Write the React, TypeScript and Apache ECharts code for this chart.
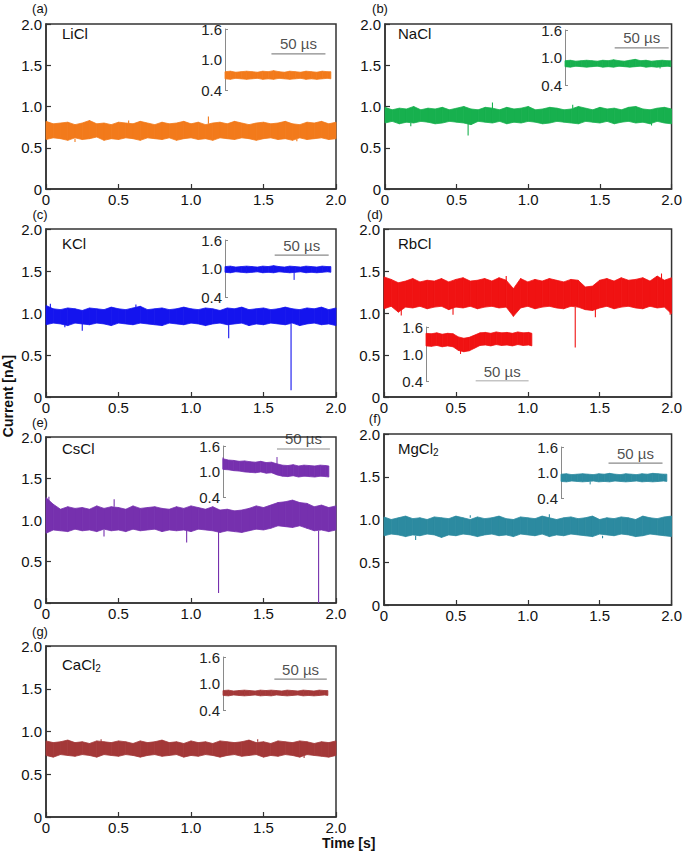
import React, { useEffect, useRef } from "react";
import * as echarts from "echarts";

const FONT = "'Liberation Sans', Arial, Helvetica, sans-serif";

// ---------- DATA ----------
const sampleTimes = [0, 0.05, 0.1, 0.15, 0.2, 0.25, 0.3, 0.35, 0.4, 0.45, 0.5, 0.55, 0.6, 0.65, 0.7, 0.75, 0.8, 0.85, 0.9, 0.95, 1.0, 1.05, 1.1, 1.15, 1.2, 1.25, 1.3, 1.35, 1.4, 1.45, 1.5, 1.55, 1.6, 1.65, 1.7, 1.75, 1.8, 1.85, 1.9, 1.95, 2.0];
const insetTimes = [0, 5, 10, 15, 20, 25, 30, 35, 40, 45, 50, 55, 60, 65, 70, 75, 80, 85, 90, 95, 98];

const panelTags = ["(a)", "(b)", "(c)", "(d)", "(e)", "(f)", "(g)"];
const saltNames = ["{n|LiCl}", "{n|NaCl}", "{n|KCl}", "{n|RbCl}", "{n|CsCl}", "{n|MgCl}{s|2}", "{n|CaCl}{s|2}"];
const saltColors = ["#F27A1B", "#17B04E", "#1414EE", "#F01212", "#7630AE", "#2C8AA0", "#A33838"];
const insetTickLabels = [0.4, 1.0, 1.6];
const insetTickEnds = [0.4, 1.6];
const scaleBarText = "50 µs";

// main traces: upper / lower envelope of the noise band [nA]
const liclHi = [0.82, 0.79, 0.80, 0.81, 0.78, 0.80, 0.83, 0.79, 0.80, 0.78, 0.81, 0.80, 0.79, 0.82, 0.80, 0.78, 0.81, 0.79, 0.80, 0.82, 0.79, 0.81, 0.78, 0.80, 0.81, 0.79, 0.82, 0.80, 0.78, 0.80, 0.81, 0.79, 0.80, 0.82, 0.79, 0.78, 0.81, 0.80, 0.82, 0.79, 0.81];
const liclLo = [0.60, 0.62, 0.61, 0.59, 0.62, 0.60, 0.61, 0.63, 0.59, 0.61, 0.60, 0.62, 0.61, 0.59, 0.62, 0.61, 0.60, 0.62, 0.59, 0.61, 0.62, 0.60, 0.61, 0.59, 0.62, 0.61, 0.60, 0.62, 0.61, 0.59, 0.61, 0.62, 0.60, 0.61, 0.59, 0.62, 0.60, 0.61, 0.62, 0.60, 0.61];
const naclHi = [0.99, 0.96, 0.98, 0.97, 1.00, 0.96, 0.98, 0.97, 0.99, 0.96, 0.98, 1.00, 0.97, 0.96, 0.99, 0.98, 0.96, 0.99, 0.97, 0.98, 1.00, 0.96, 0.97, 0.99, 0.98, 0.96, 0.97, 1.00, 0.98, 0.96, 0.99, 0.97, 0.98, 0.96, 0.99, 1.00, 0.97, 0.96, 0.98, 0.99, 0.97];
const naclLo = [0.80, 0.82, 0.79, 0.81, 0.80, 0.82, 0.81, 0.79, 0.80, 0.82, 0.81, 0.80, 0.78, 0.82, 0.81, 0.80, 0.82, 0.79, 0.81, 0.80, 0.82, 0.81, 0.79, 0.80, 0.82, 0.81, 0.80, 0.79, 0.82, 0.81, 0.80, 0.82, 0.79, 0.81, 0.82, 0.80, 0.81, 0.79, 0.82, 0.80, 0.79];
const kclHi = [1.09, 1.05, 1.04, 1.06, 1.05, 1.03, 1.06, 1.05, 1.04, 1.07, 1.05, 1.04, 1.06, 1.08, 1.04, 1.05, 1.06, 1.04, 1.05, 1.07, 1.05, 1.04, 1.06, 1.05, 1.03, 1.06, 1.05, 1.07, 1.04, 1.05, 1.06, 1.04, 1.05, 1.07, 1.05, 1.04, 1.06, 1.05, 1.07, 1.04, 1.06];
const kclLo = [0.86, 0.88, 0.87, 0.85, 0.88, 0.87, 0.86, 0.88, 0.87, 0.85, 0.88, 0.87, 0.86, 0.88, 0.87, 0.86, 0.85, 0.88, 0.87, 0.86, 0.88, 0.87, 0.85, 0.87, 0.88, 0.86, 0.87, 0.88, 0.85, 0.87, 0.86, 0.88, 0.87, 0.86, 0.88, 0.85, 0.87, 0.88, 0.86, 0.87, 0.85];
const rbclHi = [1.43, 1.40, 1.36, 1.38, 1.41, 1.37, 1.39, 1.38, 1.41, 1.37, 1.40, 1.42, 1.38, 1.39, 1.41, 1.38, 1.42, 1.39, 1.29, 1.41, 1.37, 1.40, 1.38, 1.41, 1.39, 1.37, 1.40, 1.39, 1.31, 1.32, 1.39, 1.41, 1.38, 1.42, 1.39, 1.40, 1.42, 1.38, 1.44, 1.39, 1.42];
const rbclLo = [1.05, 1.08, 1.01, 1.07, 1.06, 1.08, 1.05, 1.07, 1.08, 1.04, 1.07, 1.06, 1.08, 1.05, 1.07, 1.08, 1.06, 1.07, 0.96, 1.06, 1.08, 1.05, 1.07, 1.08, 1.06, 1.05, 1.08, 1.07, 1.04, 1.03, 1.06, 1.08, 1.05, 1.07, 1.08, 1.06, 1.05, 1.08, 1.06, 1.07, 0.99];
const csclHi = [1.27, 1.19, 1.13, 1.16, 1.14, 1.15, 1.13, 1.17, 1.14, 1.16, 1.15, 1.13, 1.17, 1.14, 1.15, 1.16, 1.14, 1.13, 1.16, 1.14, 1.17, 1.15, 1.13, 1.16, 1.12, 1.13, 1.11, 1.12, 1.14, 1.17, 1.15, 1.18, 1.21, 1.22, 1.24, 1.21, 1.20, 1.16, 1.18, 1.15, 1.17];
const csclLo = [0.84, 0.88, 0.87, 0.86, 0.89, 0.87, 0.88, 0.86, 0.89, 0.87, 0.88, 0.86, 0.89, 0.87, 0.88, 0.89, 0.86, 0.88, 0.87, 0.88, 0.86, 0.89, 0.88, 0.87, 0.85, 0.87, 0.86, 0.85, 0.87, 0.89, 0.88, 0.90, 0.93, 0.92, 0.91, 0.93, 0.90, 0.87, 0.88, 0.86, 0.88];
const mgclHi = [1.03, 1.00, 1.02, 1.04, 1.01, 1.02, 1.00, 1.03, 1.02, 1.01, 1.04, 1.02, 1.00, 1.03, 1.01, 1.02, 1.04, 1.01, 1.00, 1.03, 1.02, 1.01, 1.04, 1.02, 1.00, 1.02, 1.03, 1.01, 1.02, 1.04, 1.00, 1.02, 1.01, 1.03, 1.02, 1.00, 1.04, 1.02, 1.01, 1.03, 1.04];
const mgclLo = [0.81, 0.83, 0.82, 0.80, 0.82, 0.81, 0.83, 0.82, 0.79, 0.82, 0.81, 0.83, 0.82, 0.80, 0.82, 0.83, 0.81, 0.82, 0.80, 0.83, 0.82, 0.81, 0.83, 0.80, 0.82, 0.81, 0.83, 0.82, 0.81, 0.80, 0.83, 0.82, 0.81, 0.83, 0.82, 0.80, 0.81, 0.83, 0.82, 0.81, 0.80];
const caclHi = [0.89, 0.87, 0.88, 0.90, 0.87, 0.88, 0.86, 0.89, 0.88, 0.87, 0.89, 0.88, 0.86, 0.89, 0.87, 0.88, 0.90, 0.87, 0.88, 0.86, 0.89, 0.87, 0.88, 0.86, 0.89, 0.88, 0.87, 0.88, 0.90, 0.87, 0.88, 0.86, 0.89, 0.88, 0.87, 0.89, 0.88, 0.86, 0.88, 0.87, 0.89];
const caclLo = [0.72, 0.70, 0.73, 0.72, 0.71, 0.73, 0.72, 0.70, 0.73, 0.72, 0.71, 0.73, 0.72, 0.70, 0.72, 0.73, 0.71, 0.72, 0.73, 0.70, 0.72, 0.71, 0.73, 0.72, 0.70, 0.72, 0.73, 0.71, 0.72, 0.73, 0.70, 0.72, 0.71, 0.73, 0.72, 0.70, 0.73, 0.72, 0.71, 0.70, 0.72];

// current spikes / blockade events: [time s, from nA, to nA]
const liclSpikes = [[1.12, 0.79, 0.88], [0.2, 0.61, 0.57], [0.57, 0.79, 0.83], [1.73, 0.61, 0.58]];
const naclSpikes = [[0.58, 0.81, 0.65], [0.75, 0.98, 1.05], [0.18, 0.80, 0.76], [1.31, 0.98, 1.02], [1.86, 0.80, 0.77]];
const kclSpikes = [[0.25, 0.87, 0.79], [1.26, 0.87, 0.70], [1.69, 0.87, 0.08], [0.62, 1.05, 1.10], [0.13, 0.87, 0.83], [0.03, 1.06, 1.11]];
const rbclSpikes = [[1.33, 1.07, 0.59], [1.47, 1.05, 0.95], [0.12, 1.05, 0.97], [0.48, 1.07, 0.98], [1.93, 1.40, 1.47], [0.85, 1.38, 1.44], [1.99, 1.06, 0.98]];
const csclSpikes = [[0.4, 0.88, 0.80], [0.97, 0.88, 0.73], [1.19, 0.87, 0.12], [1.88, 0.87, 0.0], [0.02, 1.2, 1.28], [0.47, 1.16, 1.25]];
const mgclSpikes = [[0.22, 0.81, 0.76], [1.15, 1.02, 1.06], [0.6, 1.02, 1.05], [1.52, 0.81, 0.78]];
const caclSpikes = [[1.46, 0.88, 0.91], [1.78, 0.72, 0.69], [0.38, 0.88, 0.91]];

// insets (time in µs)
const liclInsetHi = [0.76, 0.77, 0.75, 0.76, 0.77, 0.76, 0.75, 0.77, 0.76, 0.78, 0.76, 0.75, 0.77, 0.76, 0.75, 0.77, 0.76, 0.75, 0.77, 0.76, 0.76];
const liclInsetLo = [0.62, 0.61, 0.63, 0.62, 0.61, 0.62, 0.63, 0.61, 0.62, 0.61, 0.63, 0.62, 0.61, 0.62, 0.63, 0.61, 0.62, 0.61, 0.62, 0.63, 0.62];
const naclInsetHi = [0.93, 0.94, 0.92, 0.93, 0.94, 0.93, 0.92, 0.94, 0.93, 0.95, 0.93, 0.92, 0.94, 0.96, 0.93, 0.94, 0.92, 0.93, 0.94, 0.93, 0.93];
const naclInsetLo = [0.80, 0.79, 0.81, 0.80, 0.79, 0.80, 0.81, 0.79, 0.80, 0.79, 0.81, 0.80, 0.79, 0.80, 0.81, 0.79, 0.80, 0.79, 0.80, 0.81, 0.80];
const kclInsetHi = [1.04, 1.05, 1.03, 1.04, 1.05, 1.04, 1.03, 1.05, 1.04, 1.06, 1.04, 1.03, 1.05, 1.04, 1.03, 1.05, 1.04, 1.03, 1.05, 1.04, 1.04];
const kclInsetLo = [0.92, 0.91, 0.93, 0.92, 0.91, 0.92, 0.93, 0.91, 0.92, 0.91, 0.93, 0.92, 0.91, 0.92, 0.93, 0.91, 0.92, 0.91, 0.92, 0.93, 0.92];
const rbclInsetHi = [1.46, 1.45, 1.47, 1.44, 1.46, 1.45, 1.38, 1.35, 1.37, 1.42, 1.47, 1.48, 1.46, 1.49, 1.47, 1.48, 1.46, 1.49, 1.47, 1.48, 1.46];
const rbclInsetLo = [1.18, 1.17, 1.19, 1.16, 1.18, 1.16, 1.08, 1.05, 1.07, 1.13, 1.19, 1.20, 1.18, 1.21, 1.19, 1.20, 1.18, 1.21, 1.19, 1.20, 1.18];
const csclInsetHi = [1.30, 1.27, 1.26, 1.24, 1.25, 1.23, 1.22, 1.24, 1.21, 1.22, 1.18, 1.15, 1.14, 1.16, 1.13, 1.15, 1.14, 1.13, 1.15, 1.14, 1.13];
const csclInsetLo = [1.05, 1.04, 1.02, 1.01, 0.99, 0.98, 0.97, 0.99, 0.96, 0.97, 0.92, 0.89, 0.88, 0.90, 0.87, 0.89, 0.88, 0.87, 0.89, 0.88, 0.87];
const mgclInsetHi = [0.96, 0.97, 0.95, 0.96, 0.97, 0.96, 0.95, 0.97, 0.96, 0.98, 0.96, 0.95, 0.97, 0.96, 0.95, 0.97, 0.96, 0.98, 0.97, 0.96, 0.96];
const mgclInsetLo = [0.79, 0.78, 0.80, 0.79, 0.78, 0.79, 0.80, 0.78, 0.79, 0.78, 0.80, 0.79, 0.78, 0.79, 0.80, 0.78, 0.79, 0.78, 0.79, 0.80, 0.79];
const caclInsetHi = [0.84, 0.85, 0.83, 0.84, 0.85, 0.84, 0.83, 0.85, 0.84, 0.85, 0.84, 0.83, 0.85, 0.84, 0.83, 0.85, 0.84, 0.83, 0.85, 0.84, 0.84];
const caclInsetLo = [0.73, 0.72, 0.74, 0.73, 0.72, 0.73, 0.74, 0.72, 0.73, 0.72, 0.74, 0.73, 0.72, 0.73, 0.74, 0.72, 0.73, 0.72, 0.73, 0.74, 0.73];

const liclInsetSpikes: number[][] = [];
const naclInsetSpikes = [[88, 0.80, 0.76]];
const kclInsetSpikes = [[64, 0.92, 0.76]];
const rbclInsetSpikes = [[32, 1.08, 1.00]];
const csclInsetSpikes = [[0, 1.05, 1.33], [50, 1.18, 1.34]];
const mgclInsetSpikes = [[27, 0.79, 0.72]];
const caclInsetSpikes: number[][] = [];

// scale bars: [start µs, end µs, level nA]
const liclScaleBar = [43, 93, 1.11];
const naclScaleBar = [46, 96, 1.21];
const kclScaleBar = [46, 96, 1.28];
const rbclScaleBar = [46, 95, 0.4];
const csclScaleBar = [50, 99, 1.53];
const mgclScaleBar = [44, 94, 1.22];
const caclScaleBar = [48, 97, 1.1];

// ---------- LAYOUT (pixels) ----------
const layouts = [
  { main: { left: 46, top: 24, width: 290, height: 165 }, inset: { left: 225, top: 29, width: 108, height: 61 }, tag: [40, 8], name: [62, 33] },
  { main: { left: 385, top: 24, width: 289, height: 165 }, inset: { left: 565, top: 30, width: 108, height: 55 }, tag: [380, 8], name: [398, 33] },
  { main: { left: 46, top: 229, width: 290, height: 168 }, inset: { left: 225, top: 240, width: 108, height: 57 }, tag: [40, 214], name: [62, 243] },
  { main: { left: 384, top: 229, width: 290, height: 168 }, inset: { left: 426, top: 327, width: 108, height: 54 }, tag: [375, 214], name: [398, 243] },
  { main: { left: 46, top: 437, width: 290, height: 166 }, inset: { left: 223, top: 446, width: 108, height: 51 }, tag: [40, 422], name: [62, 448] },
  { main: { left: 384, top: 434, width: 290, height: 171 }, inset: { left: 561, top: 447, width: 108, height: 51 }, tag: [375, 418], name: [398, 448] },
  { main: { left: 46, top: 646, width: 290, height: 171 }, inset: { left: 223, top: 657, width: 107, height: 53 }, tag: [40, 631], name: [62, 664] },
];

const traces = [
  { hi: liclHi, lo: liclLo, spikes: liclSpikes, iHi: liclInsetHi, iLo: liclInsetLo, iSpikes: liclInsetSpikes, bar: liclScaleBar },
  { hi: naclHi, lo: naclLo, spikes: naclSpikes, iHi: naclInsetHi, iLo: naclInsetLo, iSpikes: naclInsetSpikes, bar: naclScaleBar },
  { hi: kclHi, lo: kclLo, spikes: kclSpikes, iHi: kclInsetHi, iLo: kclInsetLo, iSpikes: kclInsetSpikes, bar: kclScaleBar },
  { hi: rbclHi, lo: rbclLo, spikes: rbclSpikes, iHi: rbclInsetHi, iLo: rbclInsetLo, iSpikes: rbclInsetSpikes, bar: rbclScaleBar },
  { hi: csclHi, lo: csclLo, spikes: csclSpikes, iHi: csclInsetHi, iLo: csclInsetLo, iSpikes: csclInsetSpikes, bar: csclScaleBar },
  { hi: mgclHi, lo: mgclLo, spikes: mgclSpikes, iHi: mgclInsetHi, iLo: mgclInsetLo, iSpikes: mgclInsetSpikes, bar: mgclScaleBar },
  { hi: caclHi, lo: caclLo, spikes: caclSpikes, iHi: caclInsetHi, iLo: caclInsetLo, iSpikes: caclInsetSpikes, bar: caclScaleBar },
];

// segments [t0, lo0, hi0, t1, lo1, hi1] for the band polygons
function segments(times: number[], lo: number[], hi: number[]) {
  const out: number[][] = [];
  for (let i = 0; i < times.length - 1; i++) {
    out.push([times[i], lo[i], hi[i], times[i + 1], lo[i + 1], hi[i + 1]]);
  }
  return out;
}
function spikeData(sp: number[][]) {
  const out: any[] = [];
  sp.forEach(([t, a, b]) => {
    out.push([t, a], [t, b], [t, "-"]);
  });
  return out;
}
function bandRenderer(color: string) {
  return (_params: any, api: any) => {
    const a = api.coord([api.value(0), api.value(2)]);
    const b = api.coord([api.value(3), api.value(5)]);
    const c = api.coord([api.value(3), api.value(4)]);
    const d = api.coord([api.value(0), api.value(1)]);
    return {
      type: "polygon",
      shape: { points: [a, b, c, d] },
      style: { fill: color, stroke: color, lineWidth: 0.8, lineJoin: "miter" },
    };
  };
}

function buildOption() {
  const grid: any[] = [];
  const xAxis: any[] = [];
  const yAxis: any[] = [];
  const series: any[] = [];
  const graphic: any[] = [];

  const tickFmt = (v: number) => (v === 0 ? "0" : v.toFixed(1));

  layouts.forEach((L, i) => {
    grid.push({ ...L.main, show: true, borderColor: "#333", borderWidth: 1.5, backgroundColor: "transparent" });
    xAxis.push({
      gridIndex: i, type: "value", min: 0, max: 2, interval: 0.5,
      axisLine: { show: true, lineStyle: { color: "#333", width: 1.5 } },
      axisTick: { show: true, inside: true, length: 5, lineStyle: { color: "#333", width: 1.2 } },
      axisLabel: { fontSize: 15, color: "#111", margin: 3, fontFamily: FONT, formatter: tickFmt },
      splitLine: { show: false },
    });
    yAxis.push({
      gridIndex: i, type: "value", min: 0, max: 2, interval: 0.5,
      axisLine: { show: true, lineStyle: { color: "#333", width: 1.5 } },
      axisTick: { show: true, inside: true, length: 5, lineStyle: { color: "#333", width: 1.2 } },
      axisLabel: { fontSize: 15, color: "#111", margin: 4, fontFamily: FONT, formatter: tickFmt },
      splitLine: { show: false },
    });
  });
  layouts.forEach((L, i) => {
    const gi = layouts.length + i;
    grid.push({ ...L.inset, show: false });
    xAxis.push({ gridIndex: gi, type: "value", min: 0, max: 100, show: false });
    yAxis.push({
      gridIndex: gi, type: "value", min: 0.4, max: 1.6,
      axisLine: { show: true, lineStyle: { color: "#8a8a8a", width: 1 } },
      axisTick: { show: true, inside: true, length: 3, customValues: insetTickEnds, lineStyle: { color: "#8a8a8a", width: 1 } },
      axisLabel: { customValues: insetTickLabels, fontSize: 15, color: "#222", margin: 3, fontFamily: FONT, formatter: (v: number) => v.toFixed(1) },
      splitLine: { show: false },
    });
  });

  traces.forEach((T, i) => {
    const color = saltColors[i];
    const gi = layouts.length + i;
    series.push({
      type: "custom", xAxisIndex: i, yAxisIndex: i, silent: true,
      data: segments(sampleTimes, T.lo, T.hi),
      encode: { x: [0, 3], y: [1, 2, 4, 5] },
      renderItem: bandRenderer(color),
    });
    series.push({
      type: "line", xAxisIndex: i, yAxisIndex: i, symbol: "none", silent: true, connectNulls: false,
      data: spikeData(T.spikes), lineStyle: { color, width: 1.1 },
    });
    series.push({
      type: "custom", xAxisIndex: gi, yAxisIndex: gi, silent: true,
      data: segments(insetTimes, T.iLo, T.iHi),
      encode: { x: [0, 3], y: [1, 2, 4, 5] },
      renderItem: bandRenderer(color),
    });
    series.push({
      type: "line", xAxisIndex: gi, yAxisIndex: gi, symbol: "none", silent: true, connectNulls: false,
      data: spikeData(T.iSpikes), lineStyle: { color, width: 1 },
    });
    const [b0, b1, by] = T.bar;
    series.push({
      type: "line", xAxisIndex: gi, yAxisIndex: gi, symbol: "none", silent: true,
      data: [[b0, by], [b1, by]], lineStyle: { color: "#8a8a8a", width: 1.2 },
    });
    series.push({
      type: "scatter", xAxisIndex: gi, yAxisIndex: gi, symbolSize: 1, silent: true,
      itemStyle: { color: "rgba(0,0,0,0)" },
      data: [[(b0 + b1) / 2, by]],
      label: { show: true, position: "top", distance: 2, formatter: scaleBarText, fontSize: 15, color: "#222", fontFamily: FONT },
      labelLayout: { hideOverlap: false },
    });

    const L = layouts[i];
    graphic.push({
      type: "text", x: L.tag[0], y: L.tag[1],
      style: { text: panelTags[i], fontSize: 13, fontFamily: FONT, fill: "#111", align: "center", verticalAlign: "middle" },
    });
    graphic.push({
      type: "text", x: L.name[0], y: L.name[1],
      style: {
        text: saltNames[i], align: "left", verticalAlign: "middle",
        rich: {
          n: { fontSize: 15, fontFamily: FONT, fill: "#111", lineHeight: 18, verticalAlign: "middle" },
          s: { fontSize: 10, fontFamily: FONT, fill: "#111", lineHeight: 9, verticalAlign: "bottom" },
        },
      },
    });
  });

  graphic.push({
    type: "text", x: 8, y: 396, rotation: Math.PI / 2,
    style: { text: "Current [nA]", fontSize: 14, fontWeight: "bold", fontFamily: FONT, fill: "#111", align: "center", verticalAlign: "middle" },
  });
  graphic.push({
    type: "text", x: 322, y: 843,
    style: { text: "Time [s]", fontSize: 14, fontWeight: "bold", fontFamily: FONT, fill: "#111", align: "left", verticalAlign: "middle" },
  });

  return {
    animation: false,
    backgroundColor: "#ffffff",
    textStyle: { fontFamily: FONT },
    grid, xAxis, yAxis, series, graphic,
  };
}

export default function App() {
  const ref = useRef<HTMLDivElement>(null);
  useEffect(() => {
    if (!ref.current) return;
    const chart = echarts.init(ref.current, undefined, { renderer: "svg" });
    chart.setOption(buildOption() as any);
    return () => chart.dispose();
  }, []);
  return <div ref={ref} style={{ position: "absolute", left: 0, top: 0, width: 685, height: 851 }} />;
}
